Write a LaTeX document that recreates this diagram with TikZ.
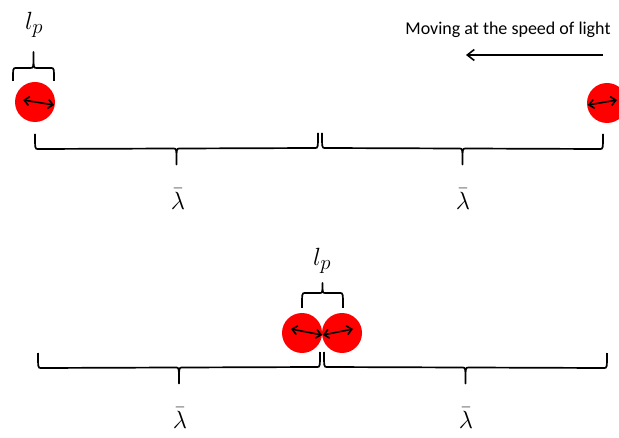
\documentclass[tikz,border=0pt]{standalone}
\usepackage{fontspec}
\newfontfamily\calibfont{Carlito}
\usetikzlibrary{calc,arrows.meta}
\tikzset{ball/.style={circle,fill=red,minimum size=40pt,inner sep=0pt},
  brc/.style={line width=1.7pt,line join=round},
  lab/.style={font=\fontsize{29}{31}\selectfont},
  dbl/.style={{Straight Barb[length=5pt,width=9pt]}-{Straight Barb[length=5pt,width=9pt]},line width=1.6pt}}
% square brace: from #1 to #2, legs #3 long, stem #4 long (negative = upwards)
\newcommand\sqbrace[4]{\draw[brc] (#1) .. controls ($(#1)+(0,-#3)$) .. ($(#1)+(3,-#3)$)
  -- ($($(#1)!.5!(#2)$)+(-3,-#3)$) .. controls ($($(#1)!.5!(#2)$)+(0,-#3)$) .. ($($(#1)!.5!(#2)$)+(0,-#3-#4)$)
  .. controls ($($(#1)!.5!(#2)$)+(0,-#3)$) .. ($($(#1)!.5!(#2)$)+(3,-#3)$)
  -- ($(#2)+(-3,-#3)$) .. controls ($(#2)+(0,-#3)$) .. (#2);}
\begin{document}
\begin{tikzpicture}[x=1pt,y=1pt]
  \useasboundingbox (0,0) rectangle (619,437);
  % top row: particles far apart
  \node[ball] (b1) at (35,335) {}; \node[ball] (b2) at (607,334) {};
  \draw[dbl] ($(b1.center)+(-12,2)$)--($(b1.east)+(-1,-3)$); \draw[dbl] ($(b2.west)+(1,-2)$)--($(b2.center)+(10,3)$);
  \coordinate (p1) at (13,356); \coordinate (p2) at (54,356); \sqbrace{p1}{p2}{-13}{-16}
  \node[lab] (lp1) at (34,412) {$l_p$};
  \node[font=\calibfont\fontsize{18}{20}\selectfont] (mv) at (508,407) {Moving at the speed of light};
  \coordinate (m1) at (603,382); \coordinate (m2) at (466,382); \draw[-{Straight Barb[length=7pt,width=11pt]},line width=1.6pt] (m1)--(m2);
  \coordinate (t1) at (35,303); \coordinate (t2) at (318,304); \coordinate (t2r) at (322,304); \coordinate (t3) at (603,303);
  \sqbrace{t1}{t2}{15}{16} \sqbrace{t2r}{t3}{15}{16}
  \node[lab] (w1) at (178,238) {$\bar\lambda$}; \node[lab] (w2) at (463,238) {$\bar\lambda$};
  % bottom row: particles touching
  \node[ball] (b3) at (302,104) {}; \node[ball] (b4) at (342,104) {};
  \draw[dbl] ($(b3.center)+(-11,4)$)--($(b3.east)+(0,-2)$); \draw[dbl] ($(b4.west)+(1,-2)$)--($(b4.center)+(11,4)$);
  \coordinate (q1) at (302,129); \coordinate (q2) at (343,129); \sqbrace{q1}{q2}{-15}{-10}
  \node[lab] (lp2) at (322,176) {$l_p$};
  \coordinate (s1) at (38,84); \coordinate (s2) at (320,85); \coordinate (s2r) at (324,85); \coordinate (s3) at (607,84);
  \sqbrace{s1}{s2}{15}{16} \sqbrace{s2r}{s3}{15}{16}
  \node[lab] (w3) at (180,19) {$\bar\lambda$}; \node[lab] (w4) at (466,19) {$\bar\lambda$};
\end{tikzpicture}
\end{document}
